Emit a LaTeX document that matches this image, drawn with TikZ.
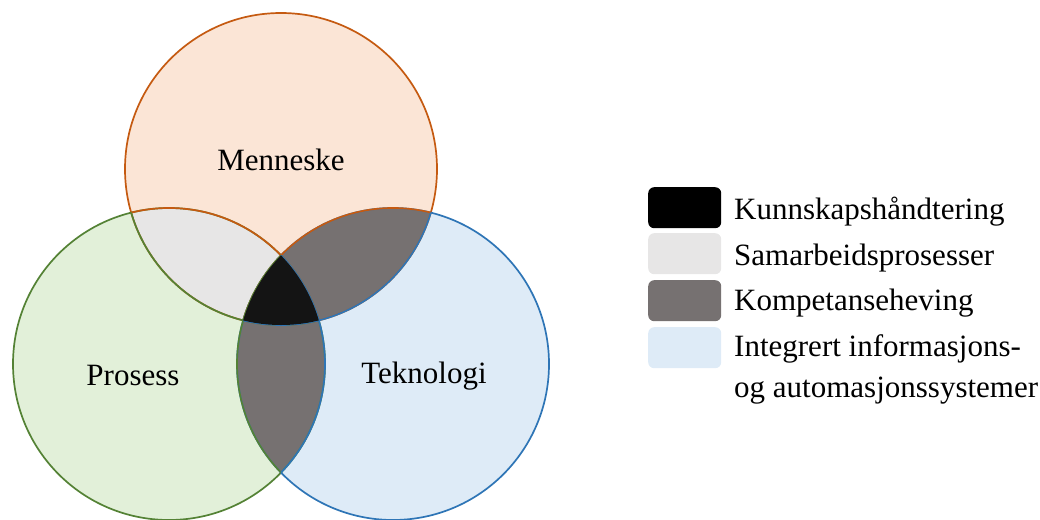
\documentclass[tikz,border=0pt]{standalone}
\usepackage{fontspec}
\setmainfont{Liberation Serif}
\definecolor{mfill}{HTML}{FBE5D6}
\definecolor{mline}{HTML}{C55A11}
\definecolor{pfill}{HTML}{E2F0D9}
\definecolor{pline}{HTML}{548235}
\definecolor{tfill}{HTML}{DEEBF7}
\definecolor{tline}{HTML}{2E75B6}
\definecolor{lgray}{HTML}{E7E6E6}
\definecolor{dgray}{HTML}{767171}
\begin{document}
\begin{tikzpicture}[x=1pt,y=-1pt,
  rim/.style={line width=1.7pt},
  label/.style={inner sep=0pt, font=\fontsize{31}{37}\selectfont},
  keybox/.style={rounded corners=6pt, minimum width=73pt, minimum height=41pt, inner sep=0pt},
  keytext/.style={label, anchor=base west}]
\useasboundingbox (0,0) rectangle (1040,519);
\def\R{156pt}
\coordinate (cm) at (281,169);
\coordinate (cp) at (169,364);
\coordinate (ct) at (393,364);

% circle fills
\fill[pfill] (cp) circle[radius=\R];
\fill[tfill] (ct) circle[radius=\R];
\fill[mfill] (cm) circle[radius=\R];

% pairwise overlaps
\begin{scope}
  \clip (cm) circle[radius=\R];
  \fill[lgray] (cp) circle[radius=\R];
  \fill[dgray] (ct) circle[radius=\R];
\end{scope}
\begin{scope}
  \clip (cp) circle[radius=\R];
  \fill[dgray] (ct) circle[radius=\R];
\end{scope}

% outer rims
\draw[rim, mline] (cm) circle[radius=\R];
\draw[rim, pline] (cp) circle[radius=\R];
\draw[rim, tline] (ct) circle[radius=\R];

% rims lying inside another circle take that circle's colour
\begin{scope}
  \clip (cm) circle[radius=\R];
  \draw[rim, mline] (cp) circle[radius=\R];
  \draw[rim, mline] (ct) circle[radius=\R];
\end{scope}
\begin{scope}
  \clip (cp) circle[radius=\R];
  \draw[rim, pline] (cm) circle[radius=\R];
  \draw[rim, pline] (ct) circle[radius=\R];
\end{scope}
\begin{scope}
  \clip (ct) circle[radius=\R];
  \draw[rim, tline] (cm) circle[radius=\R];
  \draw[rim, tline] (cp) circle[radius=\R];
\end{scope}

% triple overlap
\begin{scope}
  \clip (cm) circle[radius=\R];
  \clip (cp) circle[radius=\R];
  \fill[black!92] (ct) circle[radius=\R];
\end{scope}

% circle labels
\node[label, anchor=base] (lm) at (281,170) {Menneske};
\node[label, anchor=base] (lp) at (133,385) {Prosess};
\node[label, anchor=base] (lt) at (424,383) {Teknologi};

% legend
\node[keybox, fill=black, anchor=north west] (k1) at (648,187) {};
\node[keybox, fill=lgray, anchor=north west] (k2) at (648,233) {};
\node[keybox, fill=dgray, anchor=north west] (k3) at (648,280) {};
\node[keybox, fill=tfill, anchor=north west] (k4) at (648,327) {};

\node[keytext] (t1) at (734,219) {Kunnskapshåndtering};
\node[keytext] (t2) at (734,265) {Samarbeidsprosesser};
\node[keytext] (t3) at (734,310) {Kompetanseheving};
\node[keytext] (t4) at (734,356) {Integrert informasjons-};
\node[keytext] (t5) at (734,397) {og automasjonssystemer};
\end{tikzpicture}
\end{document}
